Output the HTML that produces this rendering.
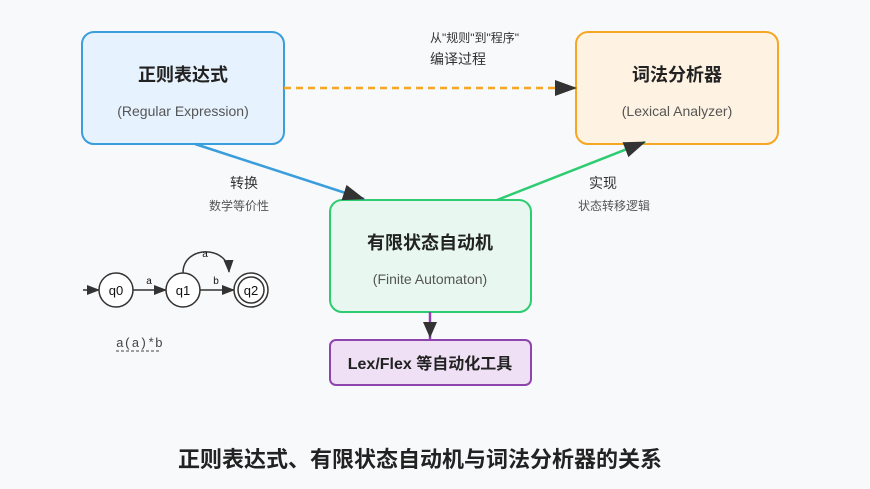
<!DOCTYPE html>
<html><head><meta charset="utf-8"><style>
html,body{margin:0;padding:0;background:#f8f9fb;}
svg{display:block;font-family:"Liberation Sans","Noto Sans CJK SC",sans-serif;}
</style></head><body>
<svg width="870" height="489" viewBox="0 0 870 489" xmlns="http://www.w3.org/2000/svg">
<defs>
<marker id="ah" markerWidth="13" markerHeight="10" refX="12" refY="5" orient="auto" markerUnits="userSpaceOnUse" viewBox="0 0 13 10"><path d="M0,0 L13,5 L0,10 Z" fill="#333"/></marker>
<marker id="ab" markerWidth="22" markerHeight="16" refX="21" refY="8" orient="auto" markerUnits="userSpaceOnUse" viewBox="0 0 22 16"><path d="M0,0 L22,8 L0,16 Z" fill="#333"/></marker>
</defs>
<rect width="870" height="489" fill="#f8f9fb"/>
<rect x="82" y="32" width="202" height="112" rx="12" fill="#e6f2fd" stroke="#3a9ddc" stroke-width="2"/>
<text x="183" y="81" text-anchor="middle" font-size="18" font-weight="bold" fill="#222">正则表达式</text>
<text x="183" y="116" text-anchor="middle" font-size="14" fill="#555">(Regular Expression)</text>

<rect x="576" y="32" width="202" height="112" rx="12" fill="#fef3e2" stroke="#f5a623" stroke-width="2"/>
<text x="677" y="81" text-anchor="middle" font-size="18" font-weight="bold" fill="#222">词法分析器</text>
<text x="677" y="116" text-anchor="middle" font-size="14" fill="#555">(Lexical Analyzer)</text>

<rect x="330" y="200" width="201" height="112" rx="12" fill="#e8f8f1" stroke="#2ecc71" stroke-width="2"/>
<text x="430" y="249" text-anchor="middle" font-size="18" font-weight="bold" fill="#222">有限状态自动机</text>
<text x="430" y="284" text-anchor="middle" font-size="14" fill="#555">(Finite Automaton)</text>

<rect x="330" y="340" width="201" height="45" rx="6" fill="#efe0f5" stroke="#8e44ad" stroke-width="2"/>
<text x="430" y="369" text-anchor="middle" font-size="16" font-weight="bold" fill="#222">Lex/Flex 等自动化工具</text>

<line x1="284" y1="88" x2="576" y2="88" stroke="#f5a623" stroke-width="2.5" stroke-dasharray="7,5" marker-end="url(#ab)"/>
<text x="430" y="42" font-size="12" fill="#333">从"规则"到"程序"</text>
<text x="430" y="64" font-size="14" fill="#333">编译过程</text>

<line x1="195" y1="144" x2="364" y2="199" stroke="#3a9ddc" stroke-width="2.5" marker-end="url(#ab)"/>
<text x="244" y="188" text-anchor="middle" font-size="14" fill="#333">转换</text>
<text x="239" y="210" text-anchor="middle" font-size="12" fill="#555">数学等价性</text>

<line x1="497" y1="200" x2="645" y2="142" stroke="#2ecc71" stroke-width="2.5" marker-end="url(#ab)"/>
<text x="603" y="188" text-anchor="middle" font-size="14" fill="#333">实现</text>
<text x="614" y="210" text-anchor="middle" font-size="12" fill="#555">状态转移逻辑</text>

<line x1="430" y1="312" x2="430" y2="340" stroke="#8e44ad" stroke-width="2.5"/>
<path d="M423,322 L437,322 L430,338 Z" fill="#333"/>

<line x1="83" y1="290" x2="99" y2="290" stroke="#333" stroke-width="1.5" marker-end="url(#ah)"/>
<circle cx="116" cy="290" r="17" fill="#fff" stroke="#333" stroke-width="1.5"/>
<text x="116" y="295" text-anchor="middle" font-size="13" fill="#111">q0</text>
<line x1="133" y1="290" x2="166" y2="290" stroke="#333" stroke-width="1.5" marker-end="url(#ah)"/>
<text x="149" y="284" text-anchor="middle" font-size="10" fill="#111">a</text>
<circle cx="183" cy="290" r="17" fill="#fff" stroke="#333" stroke-width="1.5"/>
<text x="183" y="295" text-anchor="middle" font-size="13" fill="#111">q1</text>
<line x1="200" y1="290" x2="234" y2="290" stroke="#333" stroke-width="1.5" marker-end="url(#ah)"/>
<text x="216" y="284" text-anchor="middle" font-size="10" fill="#111">b</text>
<circle cx="251" cy="290" r="17" fill="#fff" stroke="#333" stroke-width="1.5"/>
<circle cx="251" cy="290" r="13" fill="none" stroke="#333" stroke-width="1.5"/>
<text x="251" y="295" text-anchor="middle" font-size="13" fill="#111">q2</text>
<path d="M183,273 C183,245 228,245 229,272" fill="none" stroke="#333" stroke-width="1.5" marker-end="url(#ah)"/>
<text x="205" y="257" text-anchor="middle" font-size="10" fill="#111">a</text>
<text x="116" y="347" font-size="13" font-family="Liberation Mono,monospace" fill="#444">a(a)*b</text>
<line x1="116" y1="351" x2="160" y2="351" stroke="#444" stroke-width="1" stroke-dasharray="3,2"/>

<text x="420" y="467" text-anchor="middle" font-size="22" font-weight="bold" fill="#222">正则表达式、有限状态自动机与词法分析器的关系</text>
</svg>
</body></html>
